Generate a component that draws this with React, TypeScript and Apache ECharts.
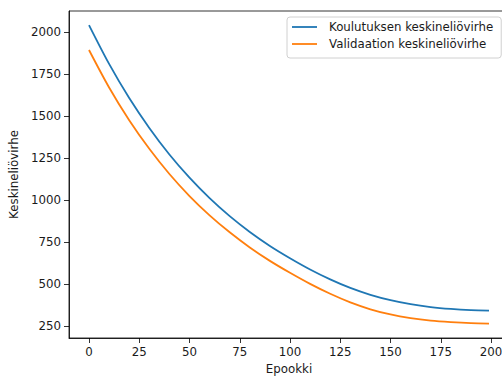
import React, { useEffect, useRef } from "react";
import * as echarts from "echarts";

const epochs = [0, 10, 20, 30, 40, 50, 60, 70, 80, 90, 100, 110, 120, 130, 140, 150, 160, 170, 180, 190, 199];
const trainLoss = [2040, 1809, 1606, 1428, 1270, 1132, 1010, 903, 809, 726, 653, 586, 527, 476, 435, 403, 379, 362, 351, 344, 341];
const valLoss = [1892, 1669, 1474, 1304, 1154, 1023, 908, 807, 717, 637, 566, 500, 441, 390, 349, 318, 296, 281, 272, 266, 264];
const xTicks = [0, 25, 50, 75, 100, 125, 150, 175, 200];
const yTicks = [250, 500, 750, 1000, 1250, 1500, 1750, 2000];
const seriesNames = ["Koulutuksen keskineliövirhe", "Validaation keskineliövirhe"];
const xName = "Epookki";
const yName = "Keskineliövirhe";

const FONT = "DejaVu Sans";

export default function App() {
  const ref = useRef<HTMLDivElement>(null);
  useEffect(() => {
    document.body.style.margin = "0";
    const chart = echarts.init(ref.current!, null, { renderer: "svg" });
    const axisCommon = {
      axisLine: { show: true, onZero: false, lineStyle: { color: "#000", width: 0.8 } },
      axisTick: { show: true, inside: false, length: 5, lineStyle: { color: "#000", width: 0.8 } },
      splitLine: { show: false },
      nameTextStyle: { fontFamily: FONT, fontSize: 11.8, color: "#1a1a1a" },
    };
    const labelStyle = { fontFamily: FONT, fontSize: 11.8, color: "#1a1a1a", margin: 8 };
    chart.setOption({
      animation: false,
      backgroundColor: "#fff",
      grid: {
        left: 69,
        top: 11,
        width: 440,
        height: 327,
        show: true,
        borderColor: "#000",
        borderWidth: 0.8,
        containLabel: false,
        outerBoundsMode: "none",
      },
      legend: {
        show: true,
        orient: "vertical",
        left: 287,
        top: 17,
        data: seriesNames,
        icon: "path://M0,0H25V1.8H0Z",
        itemWidth: 25,
        itemHeight: 12,
        itemGap: 5,
        padding: [4, 8, 8, 5],
        borderColor: "#d0d0d0",
        borderWidth: 1,
        borderRadius: 3,
        backgroundColor: "rgba(255,255,255,0.8)",
        textStyle: { fontFamily: FONT, fontSize: 11.8, color: "#1a1a1a", padding: [0, 0, 0, 7] },
      },
      xAxis: {
        type: "value",
        min: -9.95,
        max: 208.95,
        name: xName,
        nameLocation: "middle",
        nameGap: 24,
        ...axisCommon,
        axisTick: { ...axisCommon.axisTick, customValues: xTicks },
        axisLabel: { ...labelStyle, customValues: xTicks, formatter: (v: number) => String(v) },
      },
      yAxis: {
        type: "value",
        min: 178,
        max: 2124,
        name: yName,
        nameLocation: "middle",
        nameGap: 41,
        ...axisCommon,
        axisTick: { ...axisCommon.axisTick, customValues: yTicks },
        axisLabel: { ...labelStyle, customValues: yTicks, formatter: (v: number) => String(v) },
      },
      series: [
        {
          name: seriesNames[0],
          type: "line",
          data: epochs.map((e, i) => [e, trainLoss[i]]),
          symbol: "none",
          smooth: 0.3,
          lineStyle: { color: "#1f77b4", width: 1.8 },
          itemStyle: { color: "#1f77b4" },
        },
        {
          name: seriesNames[1],
          type: "line",
          data: epochs.map((e, i) => [e, valLoss[i]]),
          symbol: "none",
          smooth: 0.3,
          lineStyle: { color: "#ff7f0e", width: 1.8 },
          itemStyle: { color: "#ff7f0e" },
        },
      ],
    });
    return () => chart.dispose();
  }, []);
  return <div ref={ref} style={{ width: 502, height: 376 }} />;
}
